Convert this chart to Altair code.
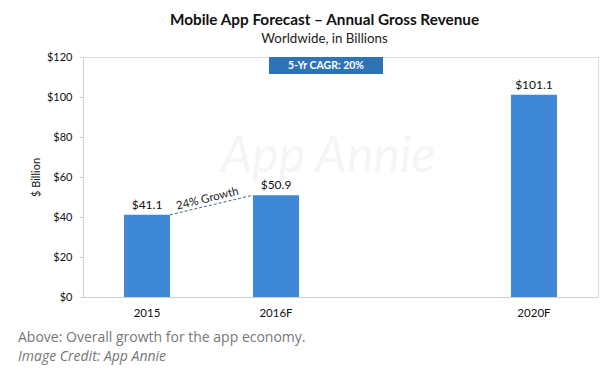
import altair as alt
import pandas as pd

# Data
categories = ["2015", "2016F", "2020F"]
revenue = [41.1, 50.9, 101.1]
value_labels = ["$41.1", "$50.9", "$101.1"]
x_domain = ["2015", "2016F", " ", "2020F"]
y_ticks = [0, 20, 40, 60, 80, 100, 120]

cagr_text = "5-Yr CAGR: 20%"
cagr_category = "2016F"
cagr_top = 120
cagr_bottom = 111.5

growth_from = "2015"
growth_to = "2016F"
growth_text = "24% Growth"

caption_line1 = "Above: Overall growth for the app economy."
caption_line2 = "Image Credit: App Annie"
watermark = "App Annie"

FONT = "Lato"
BAR_COLOR = "#3f88d5"
BOX_COLOR = "#2f73b7"

bars_df = pd.DataFrame({"cat": categories, "val": revenue, "lab": value_labels})
cagr_df = pd.DataFrame({"cat": [cagr_category], "top": [cagr_top], "bot": [cagr_bottom],
                        "mid": [(cagr_top + cagr_bottom) / 2], "txt": [cagr_text]})
growth_df = pd.DataFrame({"a": [growth_from], "b": [growth_to],
                          "va": [revenue[0]], "vb": [revenue[1]],
                          "vm": [(revenue[0] + revenue[1]) / 2], "txt": [growth_text]})

xscale = alt.Scale(domain=x_domain, paddingInner=0.643, paddingOuter=0.318)
yscale = alt.Scale(domain=[0, 120])

x_axis = alt.Axis(title=None, labelAngle=0, ticks=False, labelPadding=10,
                  domainColor="#cfcfcf", labelFontSize=11.5, labelColor="#111",
                  labelFont=FONT)
y_axis = alt.Axis(title="$ Billion", values=y_ticks, labelExpr="'$' + datum.value",
                  grid=False, domainColor="#cfcfcf", tickColor="#cfcfcf",
                  tickSize=4, labelPadding=7, labelFontSize=11,
                  labelColor="#111", labelFont=FONT, titleFont=FONT,
                  titleFontSize=11, titleFontWeight="normal", titleColor="#111",
                  titlePadding=5, labelOverlap=False)


def xn(field):
    return alt.X(field, scale=xscale, sort=x_domain, axis=x_axis)


def yn(field):
    return alt.Y(field, scale=yscale, axis=y_axis)


wm = alt.Chart(pd.DataFrame({"t": [watermark]})).mark_text(
    font=FONT, fontSize=50, fontStyle="italic", color="#f4f5f5", align="center",
    baseline="middle").encode(x=alt.value(245), y=alt.value(100), text="t:N")

bars = alt.Chart(bars_df).mark_bar(color=BAR_COLOR).encode(x=xn("cat:N"), y=yn("val:Q"))

labels = alt.Chart(bars_df).mark_text(font=FONT, fontSize=12, color="#111",
                                      baseline="bottom", dy=-3).encode(
    x=xn("cat:N"), y=yn("val:Q"), text="lab:N")

box = alt.Chart(cagr_df).mark_bar(color=BOX_COLOR, size=114, xOffset=50).encode(
    x=xn("cat:N"), y=yn("top:Q"), y2="bot:Q")
box_text = alt.Chart(cagr_df).mark_text(font=FONT, fontSize=10.5, fontWeight="bold",
                                        color="white", baseline="middle",
                                        xOffset=50).encode(
    x=xn("cat:N"), y=yn("mid:Q"), text="txt:N")

dash = alt.Chart(growth_df).mark_rule(color="#4a6785", strokeDash=[3, 2], strokeWidth=1,
                                      xOffset=23, x2Offset=-23).encode(
    x=xn("a:N"), x2="b:N", y=yn("va:Q"), y2="vb:Q")
gtext = alt.Chart(growth_df).mark_text(font=FONT, fontSize=11.5, color="#222", angle=346,
                                       baseline="middle", xOffset=62, dy=-6).encode(
    x=xn("a:N"), y=yn("vm:Q"), text="txt:N")

cap1 = alt.Chart(pd.DataFrame({"t": [caption_line1]})).mark_text(
    font="Open Sans", fontSize=14, color="#777", align="left", baseline="middle").encode(
    x=alt.value(-65), y=alt.value(281), text="t:N")
cap2 = alt.Chart(pd.DataFrame({"t": [caption_line2]})).mark_text(
    font="Open Sans", fontSize=14, fontStyle="italic", color="#777", align="left",
    baseline="middle").encode(x=alt.value(-65), y=alt.value(300), text="t:N")

chart = alt.layer(wm, bars, labels, box, box_text, dash, gtext, cap1, cap2).properties(
    width=515, height=240,
    autosize=alt.AutoSizeParams(type="none"),
    padding={"left": 75, "top": 49, "right": 9, "bottom": 78},
    title=alt.TitleParams(text="Mobile App Forecast – Annual Gross Revenue",
                          subtitle="Worldwide, in Billions", anchor="middle", dx=-16,
                          font=FONT, fontSize=15.3, fontWeight="bold", color="#111",
                          subtitleFont=FONT, subtitleFontSize=13.3, subtitleColor="#222",
                          subtitlePadding=3, offset=6),
).configure_view(strokeWidth=0).configure(background="white")

chart.save("out.html", embed_options={"renderer": "svg", "actions": False})
